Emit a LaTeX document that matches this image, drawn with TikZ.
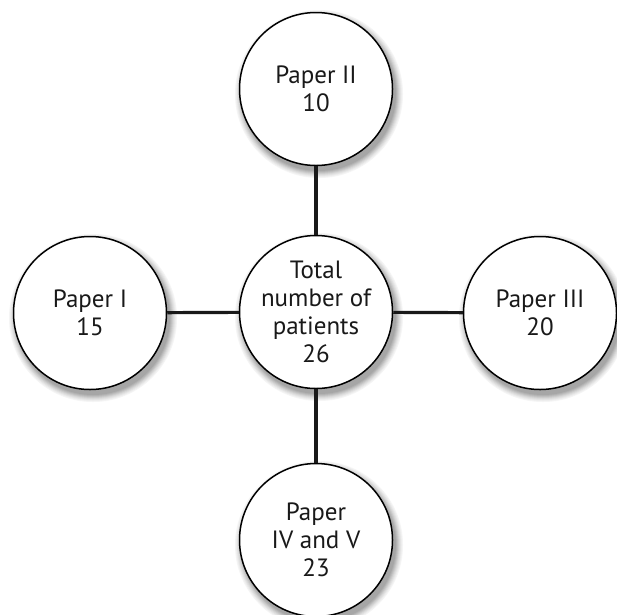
\documentclass[tikz,border=0pt]{standalone}
\usepackage{fontspec}
\setmainfont{PT Sans}
\begin{document}
\begin{tikzpicture}[x=1pt,y=-1pt,
  bub/.style={circle, draw=black, line width=1.5pt, fill=white, minimum size=153pt, inner sep=0pt, align=center,
    font=\fontsize{25pt}{28pt}\selectfont, text=black!90},
  link/.style={line width=3.2pt, draw=black!90}]
\useasboundingbox (0,0) rectangle (617,614);
\clip (0,0) rectangle (617,614);
\fill[white] (0,0) rectangle (617,614);
\foreach \px/\py in {316/312,316/89,90/313,540/313,316/540}{
  \foreach \r/\g in {84pt/4,83pt/7,82pt/11,81pt/15,80pt/20,79pt/25,78pt/30,77pt/35}{
    \fill[black!\g] (\px+3,\py+5) circle (\r);
  }
}
\node[bub] (c) at (316,312) {Total\\number of\\patients\\26};
\node[bub] (t) at (316,89) {Paper II\\10};
\node[bub] (l) at (90,313) {Paper I\\15};
\node[bub] (r) at (540,313) {Paper III\\20};
\node[bub] (b) at (316,540) {Paper\\IV and V\\23};
\draw[link] (c) -- (t);
\draw[link] (c) -- (l);
\draw[link] (c) -- (r);
\draw[link] (c) -- (b);
\end{tikzpicture}
\end{document}
